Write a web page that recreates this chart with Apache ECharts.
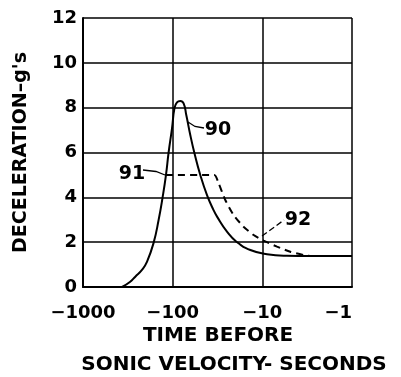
<!DOCTYPE html>
<html><head><meta charset="utf-8">
<script src="https://cdn.jsdelivr.net/npm/echarts@6/dist/echarts.min.js"></script>
<style>html,body{margin:0;padding:0;background:#fff}#c{width:401px;height:377px}</style>
</head><body><div id="c"></div>
<script>
// Time before sonic velocity (seconds, magnitude) and deceleration (g's)
const time90 = [367, 300, 261, 220, 193, 163, 143.5, 129.5, 118.7, 111, 101.7, 95.2, 89.5, 82.2, 75.5, 70.5, 63.6, 57.4, 49.2, 41.4, 35, 32, 24.8, 19.2, 13.6, 8.87, 5.31, 3, 1];
const decel90 = [0, 0.22, 0.46, 0.76, 1.13, 1.98, 2.99, 4.0, 5.0, 6.0, 7.08, 8.0, 8.24, 8.3, 8.19, 7.67, 6.78, 6.0, 5.0, 4.1, 3.43, 3.14, 2.47, 2.0, 1.65, 1.46, 1.39, 1.38, 1.38];
const time91 = [118.7, 34.3, 30.7, 25.9, 20.9, 16.2, 12.5, 9.68, 6.86, 4.88, 3.47, 3.0];
const decel91 = [5.0, 5.0, 4.62, 3.88, 3.21, 2.69, 2.32, 2.07, 1.80, 1.57, 1.43, 1.39];
const xTickValues = [1000, 100, 10, 1];
const xTickLabels = ['−1000', '−100', '−10', '−1'];
const yTickLabels = ['0', '2', '4', '6', '8', '10', '12'];
const curveNames = ['90', '91'];

const FONT = 'DejaVu Sans';
const chart = echarts.init(document.getElementById('c'));
const pair = (xs, ys) => xs.map((x, i) => [x, ys[i]]);

chart.setOption({
  animation: false,
  backgroundColor: '#fff',
  grid: { left: 83, right: 49, top: 18, bottom: 90 },
  xAxis: {
    type: 'log', logBase: 10, min: 1, max: 1000, inverse: true,
    axisLine: { show: true, onZero: false, lineStyle: { color: '#000', width: 2 } },
    axisTick: { show: false },
    splitLine: { show: true, lineStyle: { color: '#000', width: 1.5 } },
    axisLabel: {
      color: '#000', fontFamily: FONT, fontWeight: 'bold', fontSize: 18, margin: 17,
      alignMinLabel: 'right',
      formatter: v => { const i = xTickValues.indexOf(Math.round(v)); return i >= 0 ? xTickLabels[i] : ''; }
    }
  },
  yAxis: {
    type: 'value', min: 0, max: 12, interval: 2,
    name: 'DECELERATION–g\'s', nameLocation: 'middle', nameGap: 52, nameRotate: 90,
    nameTextStyle: { color: '#000', fontFamily: FONT, fontWeight: 'bold', fontSize: 19 },
    axisLine: { show: true, lineStyle: { color: '#000', width: 2 } },
    axisTick: { show: false },
    splitLine: { show: true, lineStyle: { color: '#000', width: 1.5 } },
    axisLabel: { color: '#000', fontFamily: FONT, fontWeight: 'bold', fontSize: 18, margin: 6,
      formatter: v => yTickLabels[Math.round(v / 2)] }
  },
  series: [
    { name: curveNames[0], type: 'line', data: pair(time90, decel90), showSymbol: false, smooth: 0.5,
      lineStyle: { color: '#000', width: 2 } },
    { name: curveNames[1], type: 'line', data: pair(time91, decel91), showSymbol: false, smooth: 0.2,
      lineStyle: { color: '#000', width: 2, type: [7, 5] } }
  ],
  graphic: [
    { type: 'text', style: { text: 'TIME BEFORE', x: 218, y: 336, align: 'center', verticalAlign: 'middle', font: 'bold 20px "DejaVu Sans"', fill: '#000' } },
    { type: 'text', style: { text: 'SONIC VELOCITY- SECONDS', x: 234, y: 365, align: 'center', verticalAlign: 'middle', font: 'bold 20px "DejaVu Sans"', fill: '#000' } },
    { type: 'text', style: { text: '90', x: 218, y: 130, align: 'center', verticalAlign: 'middle', font: 'bold 19px "DejaVu Sans"', fill: '#000' } },
    { type: 'text', style: { text: '91', x: 132, y: 174, align: 'center', verticalAlign: 'middle', font: 'bold 19px "DejaVu Sans"', fill: '#000' } },
    { type: 'text', style: { text: '92', x: 298, y: 220, align: 'center', verticalAlign: 'middle', font: 'bold 19px "DejaVu Sans"', fill: '#000' } },
    { type: 'polyline', shape: { points: [[188, 122], [195, 126.5], [204, 128]] }, style: { stroke: '#000', lineWidth: 1.3, fill: null } },
    { type: 'polyline', shape: { points: [[143, 170], [156, 171.5], [165, 175]] }, style: { stroke: '#000', lineWidth: 1.3, fill: null } },
    { type: 'line', shape: { x1: 262, y1: 236, x2: 284, y2: 220 }, style: { stroke: '#000', lineWidth: 1.3, lineDash: [6, 3] } }
  ]
});
</script></body></html>
